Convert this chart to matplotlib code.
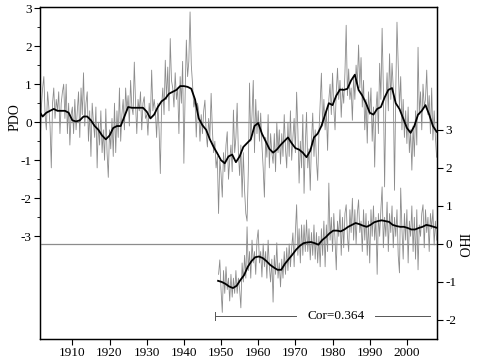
import numpy as np
import matplotlib
matplotlib.use('Agg')
import matplotlib.pyplot as plt

plt.rcParams['font.family'] = 'Liberation Serif'
plt.rcParams['axes.unicode_minus'] = False

# PDO raw values, three per year starting 1901.0
pdo_raw = [
    0.3, -0.6, 0.4,  0.9, 1.2, 0.2,  -0.2, 0.8, 0.4,  -0.1, -1.2, 0.5,  0.9, 0.1, 0.6,
    0.3, 0.8, -0.3,  0.5, 0.8, 1.0,  0.1, 1.0, -0.3,  0.5, -0.6, 0.2,
    0.4, -0.3, 0.6,  -0.2, 0.3, 0.8,  -0.4, 0.9, 0.2,  1.3, -0.1, 0.5,  0.8, -0.5, 0.3,
    -0.9, 0.5, 0.0,  -0.4, 0.4, -1.2,  0.0, -0.6, 0.3,  -0.8, -0.2, -1.0,  0.35, -0.8, -1.45,
    -0.2, -0.7, 0.1,  -0.9, 0.5, -0.8,  0.3, -0.4, 0.9,  -0.5, 0.2, 0.6,  -0.2, 0.9, 0.3,
    0.7, -0.1, 1.1,  0.4, 0.2, 1.58,  0.5, -0.3, 0.6,  0.3, 0.8, -0.2,  0.5, 0.67, 0.1,
    0.2, -0.34, 0.5,  0.1, 1.37, 0.3,  0.6, 0.3, -0.4,  0.5, -0.2, -1.35,  0.4, 0.9, 0.2,
    1.63, 0.6, 1.45,  0.3, 2.2, 1.1,  0.9, 0.4, 1.3,  0.6, 0.9, -0.3,  1.2, 0.5, 1.6,
    -1.08, 0.7, 2.16,  1.2, 1.6, 2.9,  1.5, 1.0, 0.4,  0.6, -0.39, 0.5,  0.3, -0.5, 0.2,
    -0.3, 0.3, 0.58,  -0.3, -0.65, 0.1,  -0.4, 0.76, -0.2,  -0.8, -0.5, -1.2,  -0.9, -2.4, -1.0,
    -1.35, -1.97, -0.8,  -1.3, -0.6, -0.25,  -1.5, -1.0, -0.6,  -1.3, 0.32, -0.8,  -0.4, 0.5, -0.8,
    -1.4, -0.6, -1.97,  -0.8, -1.8, -2.4,  -2.6, -1.3, 1.03,  -0.5, 0.2, 1.1,  -0.8, 0.6, -0.3,
    0.3, -0.5, 0.24,  -0.6, -1.2, -1.97,  -0.4, -0.92, 0.2,  -1.2, -0.3, -0.8,  -1.08, -0.3, -1.3,
    0.0, -0.8, -0.2,  -1.1, -0.3, -0.9,  0.2, -0.7, -1.2,  0.0, -0.9, 0.3,  -1.0, -0.4, 0.1,
    -0.8, 0.79, -0.2,  -1.6, -0.5, -1.2,  0.2, -1.87, -0.6,  0.26, -1.2, -0.7,  -1.79, -0.5, 0.24,
    -0.9, -0.2, -1.0,  -1.53, -0.3, 0.5,  1.29, -0.1, 0.6,  -0.2, 0.3, -0.74,  0.6, 1.0, 0.2,
    1.29, 0.4, -0.2,  0.8, 1.42, 0.6,  1.1, 0.13, 0.9,  0.5, 1.3, 2.55,  0.7, 1.4, 0.6,
    0.9, 0.05, 1.2,  0.6, 1.5, 1.0,  2.03, 0.9, 1.7,  0.4, 1.1, -0.2,  0.6, -0.55, 0.8,
    0.2, 0.9, -0.5,  0.4, -1.18, 0.3,  0.8, -0.3, 1.55,  0.6, 2.47, 0.9,  -1.7, 0.5, 1.3,
    0.3, 1.8, 0.6,  1.55, 0.9, -1.79,  0.8, 2.63, 1.5,  0.4, 1.2, -0.2,  0.6, -0.4, 0.3,
    -0.56, 0.4, -0.8,  -0.2, -1.26, -0.1,  -0.9, 0.3, -0.6,  1.97, 0.2, 0.8,  -0.2, 1.0, 0.4,
    0.6, 1.37, 0.2,  0.7, -0.3, 0.9,  -0.47, 0.3, -0.4,  -0.92,
]

# PDO smoothed, one per year 1901-2008
pdo_smooth = [
    0.3, 0.15, 0.25, 0.3, 0.35, 0.3, 0.3, 0.3, 0.25, 0.05,
    0.02, 0.05, 0.15, 0.15, 0.05, -0.1, -0.2, -0.35, -0.45, -0.35,
    -0.15, -0.1, -0.1, 0.15, 0.4, 0.38, 0.38, 0.38, 0.38, 0.28,
    0.1, 0.2, 0.4, 0.55, 0.62, 0.75, 0.8, 0.85, 0.95, 0.95,
    0.93, 0.88, 0.6, 0.1, -0.08, -0.2, -0.45, -0.65, -0.82, -1.0,
    -1.08, -0.9, -0.85, -1.05, -0.9, -0.65, -0.55, -0.45, -0.1, -0.02,
    -0.3, -0.5, -0.7, -0.8, -0.72, -0.6, -0.5, -0.4, -0.55, -0.68,
    -0.72, -0.8, -0.92, -0.75, -0.4, -0.3, -0.1, 0.2, 0.5, 0.45,
    0.7, 0.86, 0.85, 0.88, 1.1, 1.25, 0.85, 0.7, 0.5, 0.25,
    0.2, 0.35, 0.4, 0.65, 0.85, 0.9, 0.5, 0.35, 0.1, -0.15,
    -0.28, -0.1, 0.2, 0.3, 0.45, 0.2, -0.1, -0.25,
]

# IHO raw values, three per year starting 1949.33
iho_raw = [
    -0.8, -0.42,
    -1.2, -1.8, -0.7,  -1.3, -0.6, -1.2,  -0.9, -1.5, -0.8,  -1.4, -0.9, -1.3,  -0.7, -1.3, -0.9,
    -1.2, -1.68, -0.5,  -1.0, -0.3, -0.9,  0.45, -0.7, -0.2,  -0.9, 0.1, -0.5,  -0.2, -0.8, 0.1,
    0.37, -0.5, -0.2,  -0.87, 0.0, -0.6,  -0.2, -0.9, 0.1,  -0.6, -1.0, -0.4,  -1.53, -0.3, -0.8,
    0.03, -0.9, -0.5,  -1.13, -0.4, -0.9,  -0.2, -0.8, -0.1,  -0.7, 0.0, -0.6,  -0.1, 0.29, -0.6,
    0.3, 1.03, -0.3,  0.4, -0.5, 0.5,  -0.3, 0.5, -0.2,  0.63, -0.2, 0.4,  -0.42, 0.3, -0.3,
    0.5, -0.4, 0.3,  -0.5, 0.2, -0.6,  0.4, -0.3, 0.6,  -0.6, 0.5, -0.2,  1.6, 0.1, 0.7,
    -0.2, 0.8, 0.1,  -0.68, 0.6, 0.2,  0.9, -0.3, 0.7,  -0.1, 0.8, 1.03,  0.2, -0.2, 0.9,
    0.3, 1.2, 0.1,  0.9, 0.0, 0.8,  1.16, 0.3, 0.6,  -0.2, 0.9, 0.1,  0.8, -0.3, 0.6,
    -0.5, 0.9, 0.2,  1.0, 0.1, 0.7,  -0.8, 0.8, 0.2,  0.9, 1.5, -0.1,  0.7, 0.2, 1.1,
    -0.2, 0.8, 0.3,  1.0, -0.1, 0.7,  0.2, 0.9, -0.3,  -0.76, 1.47, 0.4,  -0.4, 0.8, 0.1,
    0.9, -0.5, 0.6,  0.2, 1.0, -0.2,  0.7, -0.4, 0.9,  -0.68, 0.5, 0.2,  0.8, 1.03, -0.1,
    0.9, 0.3, 0.7,  -0.2, 0.8, 0.4,  0.9, -0.03, 0.6,  0.1,
]

# IHO smoothed, one per year 1949-2008
iho_smooth = [
    -0.97, -1.0, -1.05, -1.12, -1.16, -1.1, -0.95, -0.82, -0.6, -0.45,
    -0.35, -0.33, -0.37, -0.45, -0.55, -0.62, -0.68, -0.68, -0.52, -0.4,
    -0.28, -0.15, -0.05, 0.02, 0.04, 0.05, 0.02, -0.02, 0.1, 0.18,
    0.28, 0.35, 0.35, 0.33, 0.38, 0.45, 0.5, 0.55, 0.52, 0.48,
    0.45, 0.5, 0.57, 0.6, 0.62, 0.6, 0.58, 0.5, 0.47, 0.45,
    0.45, 0.42, 0.38, 0.38, 0.42, 0.45, 0.5, 0.48, 0.45, 0.42,
]

cor_text = 'Cor=0.364'

t_pdo = 1901 + np.arange(len(pdo_raw)) / 3
t_pdo_s = 1901 + np.arange(len(pdo_smooth))
t_iho = 1949 + (np.arange(len(iho_raw)) + 1) / 3
t_iho_s = 1949.2 + np.arange(len(iho_smooth))

fig = plt.figure(figsize=(4.88, 3.62), dpi=100)
ax = fig.add_axes([0.082, 0.0635, 0.8135, 0.9172])
ax2 = ax.twinx()

gray = '#8c8c8c'
ax.axhline(0, color=gray, lw=0.9, zorder=1)
ax.plot(t_pdo, pdo_raw, color=gray, lw=0.6, zorder=2)
ax.plot(t_pdo_s, pdo_smooth, color='black', lw=1.3, zorder=3)

ax2.axhline(0, color=gray, lw=0.9, zorder=1)
ax2.plot(t_iho, iho_raw, color=gray, lw=0.6, zorder=2)
ax2.plot(t_iho_s, iho_smooth, color='black', lw=1.3, zorder=3)

# correlation annotation
ax2.plot([1948.4, 1970.2], [-1.9, -1.9], color='#555555', lw=0.7)
ax2.plot([1991.5, 2006.2], [-1.9, -1.9], color='#555555', lw=0.7)
ax2.plot([1948.4, 1948.4], [-1.8, -2.0], color='#555555', lw=0.7)
ax2.text(1981.0, -1.9, cor_text, ha='center', va='center', fontsize=9.5)

ax.set_xlim(1901.3, 2008.1)
ax.set_ylim(-5.7, 3.03)
ax2.set_ylim(-2.5, 6.23)

ax.set_xticks(range(1910, 2001, 10))
ax.set_yticks([-3, -2, -1, 0, 1, 2, 3])
ax.set_yticks(np.arange(-3, 3.01, 0.5), minor=True)
ax2.set_yticks([-2, -1, 0, 1, 2, 3])

ax.tick_params(axis='both', direction='out', length=4, width=0.8, labelsize=9.5, pad=2)
ax.tick_params(axis='y', which='minor', direction='out', length=2, width=0.6)
ax.tick_params(axis='x', which='minor', bottom=False)
ax2.tick_params(axis='y', direction='out', length=4, width=0.8, labelsize=9.5, pad=2)

for a in (ax, ax2):
    for s in a.spines.values():
        s.set_linewidth(0.9)

fig.text(0.03, 1 - 117 / 362, 'PDO', rotation=90, ha='center', va='center', fontsize=10)
fig.text(0.947, 1 - 245 / 362, 'IHO', rotation=270, ha='center', va='center', fontsize=10)

fig.savefig('out.png', dpi=100)
